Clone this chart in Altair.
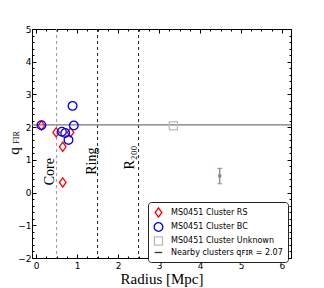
import altair as alt
import pandas as pd

# ---------------- data ----------------
series_names = ["MS0451 Cluster RS", "MS0451 Cluster BC",
                "MS0451 Cluster Unknown", "Nearby clusters qꜰɪʀ = 2.07"]

rs_x = [0.13, 0.49, 0.65, 0.65, 0.84]
rs_y = [2.05, 1.84, 1.40, 0.31, 1.84]

bc_x = [0.13, 0.63, 0.71, 0.79, 0.89, 0.92]
bc_y = [2.06, 1.86, 1.82, 1.61, 2.65, 2.05]

unk_x = [3.35]
unk_y = [2.04]

nearby_x = [4.48]
nearby_y = [0.51]
nearby_lo = [0.27]
nearby_hi = [0.74]

q_nearby = [2.07]

region_x = [0.5, 1.5, 2.5]
region_names = ["Core", "Ring", "R₂₀₀"]
label_x = [0.34, 1.36, 2.28]
label_y = [0.64, 0.96, 1.07]

x_major = [0, 1, 2, 3, 4, 5, 6]
x_minor = [i * 0.25 for i in range(0, 25)]
y_major = [-2, -1, 0, 1, 2, 3, 4, 5]
y_minor = [-2 + i * 0.2 for i in range(0, 36)]

ytitle_main = ["q"]
ytitle_sub = ["FIR"]

# ---------------- tables ----------------
pts = pd.DataFrame({
    "x": rs_x + bc_x + unk_x,
    "y": rs_y + bc_y + unk_y,
    "series": [series_names[0]] * len(rs_x) + [series_names[1]] * len(bc_x)
              + [series_names[2]] * len(unk_x),
})
err = pd.DataFrame({"x": nearby_x, "y": nearby_y, "lo": nearby_lo, "hi": nearby_hi})
caps = pd.DataFrame({"x": nearby_x * 2, "y": nearby_lo + nearby_hi})
hline = pd.DataFrame({"y": q_nearby})
vlines = pd.DataFrame({"x": region_x})
labels = pd.DataFrame({"x": label_x, "y": label_y, "t": region_names})

XS = alt.Scale(domain=[-0.1, 6.22], nice=False, zero=False)
YS = alt.Scale(domain=[-2, 5], nice=False, zero=False)

FONT = "DejaVu Sans"
SERIF = "Liberation Serif"


def ax(orient, values, size):
    # tick-only axis, ticks pointing into the plot
    return alt.Axis(orient=orient, values=values, tickSize=size, offset=-size,
                    domain=False, grid=False, labels=False, title=None,
                    tickColor="black", tickWidth=1)


diamond = "M0,-1L0.72,0L0,1L-0.72,0Z"
leg = alt.Legend(title=None, orient="none", legendX=116, legendY=173,
                 padding=5, strokeColor="#222", fillColor="white",
                 cornerRadius=3, labelFont=FONT, labelFontSize=8,
                 labelColor="black", symbolStrokeWidth=1.3, rowPadding=0,
                 labelOffset=7, labelLimit=300)

points = alt.Chart(pts).mark_point(filled=False, strokeWidth=1.3, opacity=1).encode(
    x=alt.X("x:Q", scale=XS, axis=ax("bottom", x_major, 4)),
    y=alt.Y("y:Q", scale=YS, axis=ax("left", y_major, 4)),
    color=alt.Color("series:N", scale=alt.Scale(domain=series_names,
                    range=["#ff0000", "#0000ff", "#bbbbbb", "#333333"]), legend=leg),
    shape=alt.Shape("series:N", scale=alt.Scale(domain=series_names,
                    range=[diamond, "circle", "square", "stroke"]), legend=leg),
    size=alt.Size("series:N", scale=alt.Scale(domain=series_names,
                  range=[85, 56, 52, 100]), legend=leg),
    order=alt.Order("series:N", sort="descending"),
)

vrule = alt.Chart(vlines).mark_rule(strokeDash=[3, 3], strokeWidth=1).encode(
    x=alt.X("x:Q", scale=XS, axis=ax("top", x_major, 4)),
    color=alt.condition("datum.x < 1", alt.value("#999999"), alt.value("#222222")),
)

hrule = alt.Chart(hline).mark_rule(color="#777777", strokeWidth=1.3).encode(
    y=alt.Y("y:Q", scale=YS, axis=ax("right", y_major, 4)),
)

erule = alt.Chart(err).mark_rule(color="#778899", strokeWidth=1.3).encode(
    x=alt.X("x:Q", scale=XS, axis=ax("bottom", x_minor, 2)),
    y=alt.Y("lo:Q", scale=YS, axis=ax("left", y_minor, 2)),
    y2="hi:Q",
)

ecaps = alt.Chart(caps).mark_tick(color="#778899", orient="horizontal",
                                  size=5, thickness=1.2).encode(
    x=alt.X("x:Q", scale=XS, axis=ax("top", x_minor, 2)),
    y=alt.Y("y:Q", scale=YS, axis=ax("right", y_minor, 2)),
)

ecenter = alt.Chart(err).mark_point(shape="square", filled=True, size=10,
                                    color="#778899", opacity=1).encode(
    x=alt.X("x:Q", scale=XS, axis=None),
    y=alt.Y("y:Q", scale=YS, axis=None),
)

texts = alt.Chart(labels).mark_text(angle=270, font=SERIF, fontSize=14,
                                    color="black", align="center",
                                    baseline="middle").encode(
    x=alt.X("x:Q", scale=XS,
            axis=alt.Axis(orient="bottom", values=x_major, ticks=False,
                          domain=False, grid=False, labelPadding=3,
                          labelFont=FONT, labelFontSize=9, labelColor="black",
                          labelOverlap=False, labelFlush=False,
                          title="Radius [Mpc]", titleFont=SERIF,
                          titleFontSize=15, titleFontWeight="normal",
                          titleColor="black", titlePadding=1)),
    y=alt.Y("y:Q", scale=YS,
            axis=alt.Axis(orient="left", values=y_major, ticks=False,
                          domain=False, grid=False, labelPadding=1,
                          labelFont=FONT, labelFontSize=9, labelColor="black",
                          labelOverlap=False, labelFlush=False, title=None,
                          labelExpr="replace(datum.label, '-', '−')")),
    text="t:N",
)

yt_main = alt.Chart(pd.DataFrame({"t": ytitle_main})).mark_text(
    angle=270, font=SERIF, fontSize=15, color="black", align="center",
    baseline="middle").encode(x=alt.value(-18), y=alt.value(122), text="t:N")

yt_sub = alt.Chart(pd.DataFrame({"t": ytitle_sub})).mark_text(
    angle=270, font=SERIF, fontSize=8, color="black", align="center",
    baseline="middle").encode(x=alt.value(-15.5), y=alt.value(108.5), text="t:N")

chart = alt.layer(
    vrule, hrule, erule, ecaps, ecenter, points, texts, yt_main, yt_sub
).resolve_axis(x="independent", y="independent").properties(
    width=259, height=229, autosize="none",
    padding={"left": 24, "top": 21, "right": 25, "bottom": 30},
).configure_view(stroke="black", strokeWidth=1)

chart.save("out.html", embed_options={"renderer": "svg", "actions": False})
